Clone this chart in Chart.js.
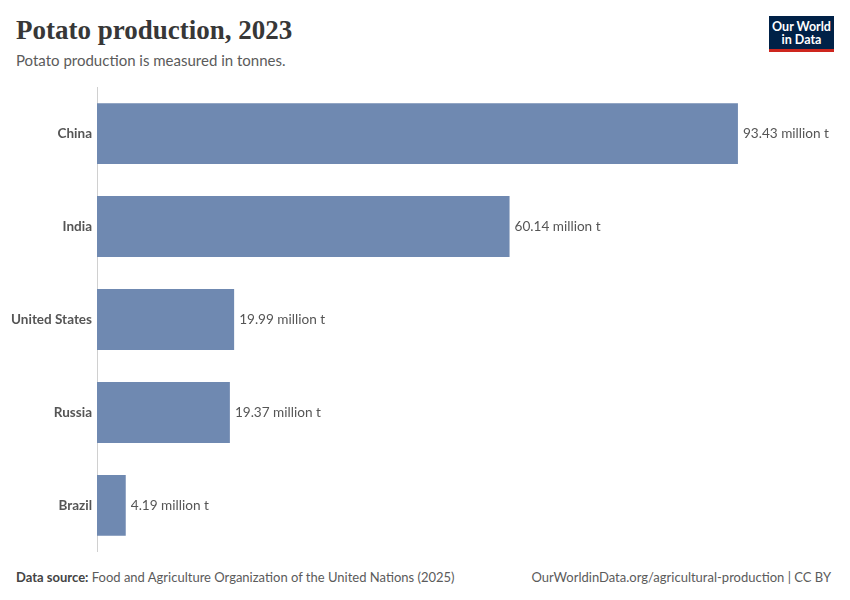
<!DOCTYPE html>
<html>
<head>
<meta charset="utf-8">
<script src="https://cdn.jsdelivr.net/npm/chart.js@4.4.1/dist/chart.umd.min.js"></script>
<style>
  body { margin: 0; background: #fff; font-family: Lato, sans-serif; }
  #wrap { position: relative; width: 850px; height: 600px; overflow: hidden; }
  #title { position: absolute; left: 16px; top: 15px; font-family: "Liberation Serif", serif; font-weight: bold; font-size: 27px; color: #373737; }
  #subtitle { position: absolute; left: 16px; top: 51px; font-size: 15px; color: #5b5b5b; }
  #logo { position: absolute; left: 769px; top: 16px; width: 65px; height: 36px; background: #002147; border-bottom: 3px solid #ce261e; color: #fff; font-size: 12.5px; font-weight: bold; line-height: 13px; text-align: center; padding-top: 4px; box-sizing: border-box; }
  #chartBox { position: absolute; left: 0; top: 74px; width: 850px; height: 491px; }
  #source { position: absolute; left: 16px; top: 569px; font-size: 13px; color: #5b5b5b; }
  #source b { color: #444; }
  #url { position: absolute; right: 19px; top: 569px; font-size: 13px; color: #5b5b5b; }
</style>
</head>
<body>
<div id="wrap">
  <div id="title">Potato production, 2023</div>
  <div id="subtitle">Potato production is measured in tonnes.</div>
  <div id="logo">Our World<br>in Data</div>
  <div id="chartBox"><canvas id="potatoChart"></canvas></div>
  <div id="source"><b>Data source:</b> Food and Agriculture Organization of the United Nations (2025)</div>
  <div id="url">OurWorldinData.org/agricultural-production | CC BY</div>
</div>
<script>
// Values in million tonnes
const countries = ['China', 'India', 'United States', 'Russia', 'Brazil'];
const production = [93.43, 60.14, 19.99, 19.37, 4.19];

// Draw value labels at the end of each bar
const valueLabels = {
    id: 'valueLabels',
    afterDatasetsDraw(chart) {
        const ctx = chart.ctx;
        const meta = chart.getDatasetMeta(0);
        ctx.save();
        ctx.font = '13.6px Lato';
        ctx.fillStyle = '#555';
        ctx.textBaseline = 'middle';
        meta.data.forEach((bar, i) => {
            ctx.fillText(production[i].toFixed(2) + ' million t', bar.x + 5, bar.y);
        });
        ctx.restore();
    }
};

new Chart(document.getElementById('potatoChart'), {
    type: 'bar',
    data: {
        labels: countries,
        datasets: [{
            data: production,
            backgroundColor: '#6f89b1',
            borderWidth: 0,
            barPercentage: 0.655,
            categoryPercentage: 1
        }]
    },
    options: {
        indexAxis: 'y',
        responsive: true,
        maintainAspectRatio: false,
        animation: false,
        layout: { padding: { top: 6, bottom: 9, right: 67 } },
        plugins: {
            legend: { display: false },
            tooltip: { enabled: false }
        },
        scales: {
            x: {
                display: false,
                min: 0,
                max: 100
            },
            y: {
                afterFit(scale) { scale.width = 97; },
                grid: { display: false, drawTicks: false },
                border: { color: '#d0d0d0', width: 1 },
                ticks: {
                    padding: 5,
                    color: '#555',
                    font: { family: 'Lato', size: 13.5, weight: 'bold' }
                }
            }
        }
    },
    plugins: [valueLabels]
});
</script>
</body>
</html>
